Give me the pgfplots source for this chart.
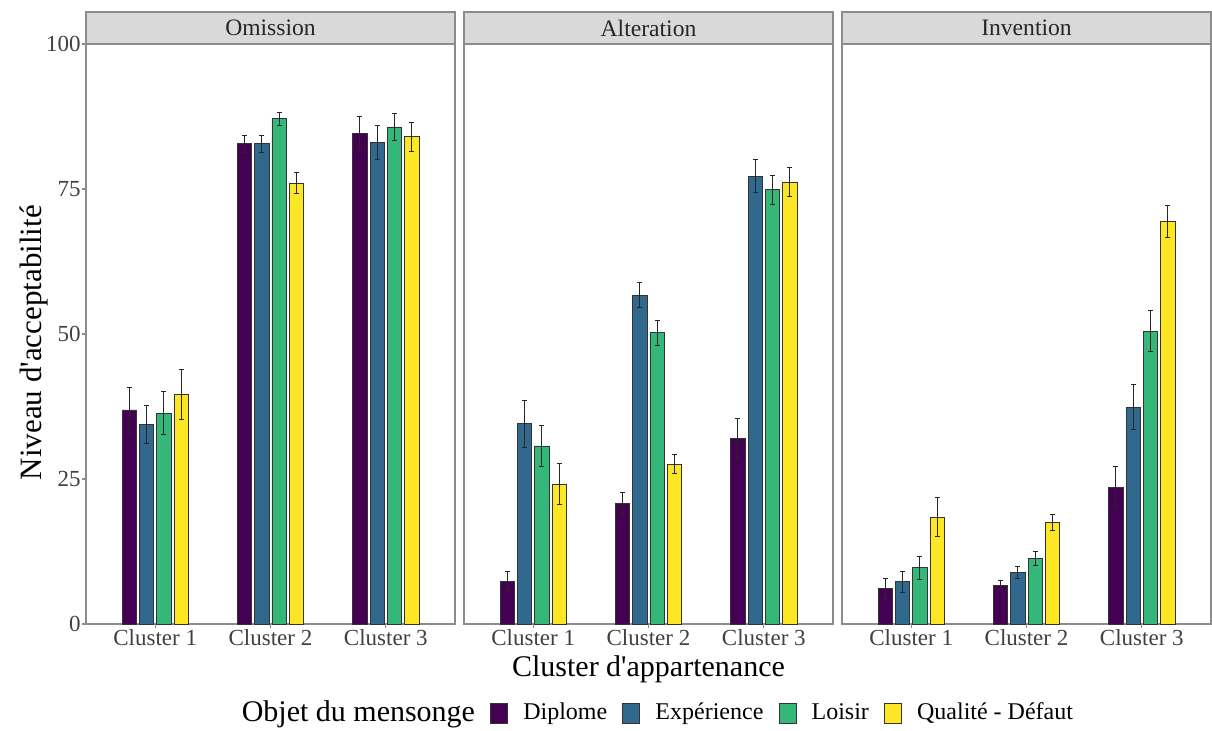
\documentclass[border=0pt]{standalone}
\usepackage{fontspec}
\setmainfont{Liberation Serif}
\usepackage{pgfplots}
\pgfplotsset{compat=1.18}
\definecolor{vDip}{HTML}{440154}
\definecolor{vExp}{HTML}{31688E}
\definecolor{vLoi}{HTML}{35B779}
\definecolor{vQua}{HTML}{FDE725}
\definecolor{frameg}{HTML}{8C8C8C}
\definecolor{stripg}{HTML}{D9D9D9}

\pgfplotsset{
 panel/.style={
  width=184.5pt, height=290pt, scale only axis,
  ybar, bar width=0.124,
  xmin=0.4, xmax=3.6, ymin=0, ymax=100,
  xtick={1,2,3}, xticklabels={Cluster 1, Cluster 2, Cluster 3},
  ytick={0,25,50,75,100},
  axis line style={frameg, line width=0.6pt},
  tick style={frameg, line width=0.6pt},
  tick align=outside, major tick length=2.2pt,
  xtick pos=bottom, ytick pos=left,
  ticklabel style={font=\fontsize{11.5}{13}\selectfont, text=black!75},
  xticklabel style={yshift=3pt},
  yticklabel style={xshift=3pt},
  clip=false,
  /pgf/number format/assume math mode=true,
  anchor=south west,
 },
 ebar/.style={error bars/.cd, y dir=both, y explicit,
   error bar style={black!85, line width=0.5pt},
   error mark options={rotate=90, mark size=1.25pt, line width=0.5pt, black!85}},
 sDip/.style={fill=vDip, draw=black!80, line width=0.4pt, bar shift=-0.225, ebar},
 sExp/.style={fill=vExp, draw=black!80, line width=0.4pt, bar shift=-0.075, ebar},
 sLoi/.style={fill=vLoi, draw=black!80, line width=0.4pt, bar shift=0.075, ebar},
 sQua/.style={fill=vQua, draw=black!80, line width=0.4pt, bar shift=0.225, ebar},
}
\newcommand{\strip}[1]{%
  \draw[fill=stripg, draw=frameg, line width=0.6pt] (rel axis cs:0,1) rectangle ([yshift=16pt]rel axis cs:1,1);
  \node[font=\fontsize{11.8}{13}\selectfont, text=black!85] at ([yshift=8pt]rel axis cs:0.5,1) {#1};
}

\begin{document}
\begin{tikzpicture}
\useasboundingbox (0,-53.5pt) rectangle (606pt,312pt);

% Omission
\begin{axis}[panel, at={(43pt,0pt)},
  ylabel={Niveau d\textquotesingle acceptabilité},
  ylabel style={at={(axis description cs:-0.142,0.485)}, anchor=center, font=\fontsize{15.5}{17}\selectfont, text=black},
]
\addplot[sDip] coordinates {(1,36.9) +- (0,3.8) (2,82.8) +- (0,1.5) (3,84.6) +- (0,2.9)};
\addplot[sExp] coordinates {(1,34.4) +- (0,3.3) (2,82.8) +- (0,1.5) (3,83.0) +- (0,2.9)};
\addplot[sLoi] coordinates {(1,36.3) +- (0,3.7) (2,87.1) +- (0,1.1) (3,85.7) +- (0,2.4)};
\addplot[sQua] coordinates {(1,39.5) +- (0,4.3) (2,76.0) +- (0,1.8) (3,84.0) +- (0,2.5)};
\strip{Omission}
\end{axis}

% Alteration
\begin{axis}[panel, at={(232pt,0pt)}, ytick=\empty,
  xlabel={Cluster d\textquotesingle appartenance},
  xlabel style={at={(axis description cs:0.5,-0.078)}, anchor=center, font=\fontsize{15}{17}\selectfont, text=black},
  legend style={at={(axis description cs:0.509,-0.1534)}, anchor=center, draw=none, fill=none,
    font=\fontsize{12}{14}\selectfont,
    /tikz/every odd column/.append style={column sep=5.6pt},
    /tikz/every even column/.append style={column sep=5.6pt}},
  legend columns=5,
]
\addlegendimage{empty legend}
\addlegendentry{\fontsize{15}{17}\selectfont Objet du mensonge}
\addlegendimage{legend image code/.code={\draw[fill=vDip, draw=black!80, line width=0.4pt] (0pt,-5pt) rectangle (8.5pt,5pt);}}
\addlegendentry{Diplome}
\addlegendimage{legend image code/.code={\draw[fill=vExp, draw=black!80, line width=0.4pt] (0pt,-5pt) rectangle (8.5pt,5pt);}}
\addlegendentry{Expérience}
\addlegendimage{legend image code/.code={\draw[fill=vLoi, draw=black!80, line width=0.4pt] (0pt,-5pt) rectangle (8.5pt,5pt);}}
\addlegendentry{Loisir}
\addlegendimage{legend image code/.code={\draw[fill=vQua, draw=black!80, line width=0.4pt] (0pt,-5pt) rectangle (8.5pt,5pt);}}
\addlegendentry{Qualité - Défaut}
\addplot[sDip] coordinates {(1,7.3) +- (0,1.7) (2,20.8) +- (0,1.9) (3,32.0) +- (0,3.4)};
\addplot[sExp] coordinates {(1,34.5) +- (0,4.0) (2,56.7) +- (0,2.1) (3,77.2) +- (0,2.8)};
\addplot[sLoi] coordinates {(1,30.7) +- (0,3.5) (2,50.2) +- (0,2.1) (3,74.9) +- (0,2.5)};
\addplot[sQua] coordinates {(1,24.1) +- (0,3.5) (2,27.6) +- (0,1.6) (3,76.2) +- (0,2.5)};
\strip{Alteration}
\end{axis}

% Invention
\begin{axis}[panel, at={(421pt,0pt)}, ytick=\empty]
\addplot[sDip] coordinates {(1,6.1) +- (0,1.8) (2,6.7) +- (0,0.8) (3,23.6) +- (0,3.5)};
\addplot[sExp] coordinates {(1,7.3) +- (0,1.8) (2,8.9) +- (0,1.0) (3,37.4) +- (0,3.9)};
\addplot[sLoi] coordinates {(1,9.7) +- (0,2.0) (2,11.3) +- (0,1.2) (3,50.5) +- (0,3.6)};
\addplot[sQua] coordinates {(1,18.4) +- (0,3.4) (2,17.5) +- (0,1.4) (3,69.4) +- (0,2.8)};
\strip{Invention}
\end{axis}
\end{tikzpicture}
\end{document}
